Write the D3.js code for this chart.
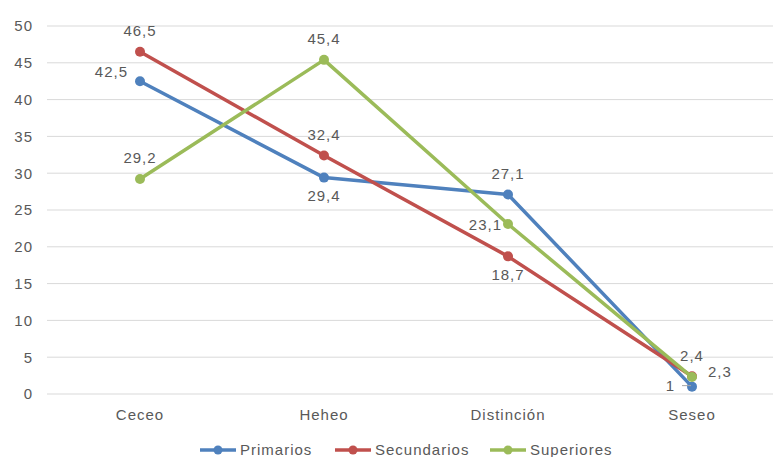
<!DOCTYPE html>
<html>
<head>
<meta charset="utf-8">
<script src="https://cdn.jsdelivr.net/npm/d3@7"></script>
<style>
  html, body { margin: 0; padding: 0; background: #fff; }
  svg { display: block; font-family: Arial, "Liberation Sans", sans-serif; }
  text { font-size: 15px; letter-spacing: 1px; }
</style>
</head>
<body>
<svg id="chart" width="773" height="457"></svg>
<script>
// Categories and series
const categories = ["Ceceo", "Heheo", "Distinción", "Seseo"];
const primarios = [42.5, 29.4, 27.1, 1];
const secundarios = [46.5, 32.4, 18.7, 2.4];
const superiores = [29.2, 45.4, 23.1, 2.3];
const yTicks = [0, 5, 10, 15, 20, 25, 30, 35, 40, 45, 50];

// Label placement per point: "t" above, "b" below, "l" left, "r" right
const series = [
  { name: "Primarios", values: primarios, color: "#4F81BD", pos: ["l", "b", "t", "l1"] },
  { name: "Secundarios", values: secundarios, color: "#C0504D", pos: ["t", "t", "b", "t"] },
  { name: "Superiores", values: superiores, color: "#9BBB59", pos: ["t", "t", "l", "r"] }
];

const svg = d3.select("#chart");
const W = 773, H = 457;
const plotLeft = 48, plotRight = 784, plotTop = 26, plotBottom = 394;

const x = d3.scaleBand().domain(categories).range([plotLeft, plotRight]);
const y = d3.scaleLinear().domain([0, 50]).range([plotBottom, plotTop]);
const cx = c => x(c) + x.bandwidth() / 2;
const fmt = v => String(v).replace(".", ",");
const textColor = "#595959";
const fontFamily = "Arial, 'Liberation Sans', sans-serif";

// Gridlines
svg.append("g").selectAll("line").data(yTicks).join("line")
  .attr("x1", plotLeft - 1).attr("x2", W)
  .attr("y1", d => y(d)).attr("y2", d => y(d))
  .attr("stroke", "#D9D9D9").attr("stroke-width", 1);

// Y axis
const yAxis = svg.append("g").attr("transform", `translate(${plotLeft - 15},0)`)
  .call(d3.axisLeft(y).tickValues(yTicks).tickSize(0).tickPadding(0));
yAxis.select(".domain").remove();
yAxis.selectAll("text").attr("fill", textColor)
  .attr("font-family", fontFamily);

// X axis
const xAxis = svg.append("g").attr("transform", `translate(0,${plotBottom})`)
  .call(d3.axisBottom(x).tickSize(0).tickPadding(15));
xAxis.select(".domain").remove();
xAxis.selectAll("text").attr("fill", textColor)
  .attr("font-family", fontFamily);
svg.selectAll(".tick text").style("font-size", "15px");

const line = d3.line().x((d, i) => cx(categories[i])).y(d => y(d));

// Lines and markers
series.forEach(s => {
  const g = svg.append("g");
  g.append("path").datum(s.values)
    .attr("d", line).attr("fill", "none")
    .attr("stroke", s.color).attr("stroke-width", 3.5)
    .attr("stroke-linejoin", "round").attr("stroke-linecap", "round");
  g.selectAll("circle").data(s.values).join("circle")
    .attr("cx", (d, i) => cx(categories[i])).attr("cy", d => y(d))
    .attr("r", 5).attr("fill", s.color);
});

// Data labels
series.forEach(s => {
  s.values.forEach((v, i) => {
    const px = cx(categories[i]), py = y(v);
    const p = s.pos[i];
    let tx = px, ty = py, anchor = "middle";
    if (p === "t") { ty = py - 21; }
    else if (p === "b") { ty = py + 18; }
    else if (p === "l") { tx = px - 12; ty = py - 9; anchor = "end"; }
    else if (p === "r") { tx = px + 16; ty = py - 5; anchor = "start"; }
    else if (p === "l1") { tx = px - 17; ty = py - 1; anchor = "end"; }
    if (s.name === "Superiores" && p === "l") { tx = px - 6; ty = py + 1; }
    svg.append("text")
      .attr("x", tx).attr("y", ty).attr("dy", "0.35em")
      .attr("text-anchor", anchor).attr("fill", textColor)
      .text(fmt(v));
    if (p === "l1") {
      svg.append("line")
        .attr("x1", px - 10).attr("x2", px - 1)
        .attr("y1", py - 1).attr("y2", py - 1)
        .attr("stroke", "#A6A6A6").attr("stroke-width", 1);
    }
  });
});

// Legend
const legendX = [200, 335, 490];
const legend = svg.append("g").attr("transform", "translate(0,450)");
series.forEach((s, i) => {
  const g = legend.append("g").attr("transform", `translate(${legendX[i]},0)`);
  g.append("line").attr("x1", 0).attr("x2", 36).attr("y1", 0).attr("y2", 0)
    .attr("stroke", s.color).attr("stroke-width", 3.5);
  g.append("circle").attr("cx", 18).attr("cy", 0).attr("r", 4.5).attr("fill", s.color);
  g.append("text").attr("x", 40).attr("y", 0).attr("dy", "0.35em")
    .attr("fill", textColor).text(s.name);
});
</script>
</body>
</html>
